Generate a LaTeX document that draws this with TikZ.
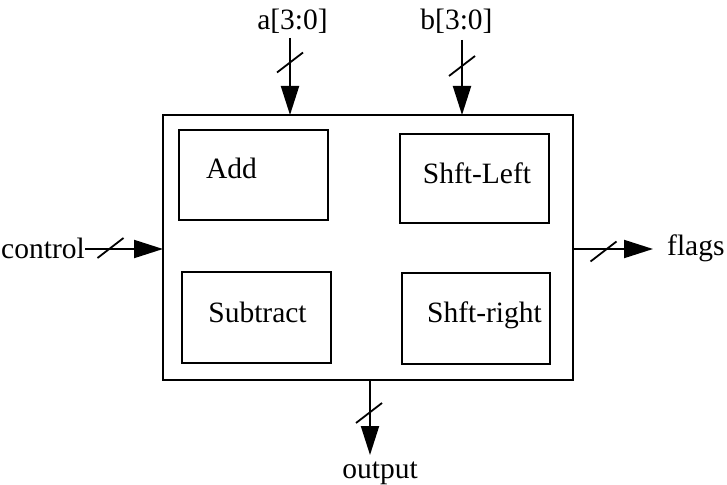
\documentclass[tikz,border=0pt]{standalone}
\usepackage{fontspec}
\setmainfont{Liberation Serif}
\usetikzlibrary{arrows.meta}
\begin{document}
\begin{tikzpicture}[x=1pt,y=-1pt,
  box/.style={draw,line width=2pt,minimum width=#1,inner sep=0pt},
  lbl/.style={inner sep=0pt,anchor=base,font=\fontsize{29.5}{33}\selectfont},
  sig/.style={line width=2pt,-{Triangle[length=29pt,width=18pt]}},
  slashline/.style={line width=1.8pt}]
\useasboundingbox (0,0) rectangle (727,484);
% outer block
\node[box=410pt,minimum height=265pt] (main) at (368,247.5) {};
% inner blocks
\node[box=149pt,minimum height=90pt] (add) at (253.5,175) {};
\node[box=149pt,minimum height=89pt] (shl) at (474.5,178.5) {};
\node[box=149pt,minimum height=91pt] (sub) at (256.5,317.5) {};
\node[box=148pt,minimum height=91pt] (shr) at (476,318.5) {};
% texts in blocks
\node[lbl] (addt) at (231.5,178) {Add};
\node[lbl] (shlt) at (477,183) {Shft-Left};
\node[lbl] (subt) at (257.5,322) {Subtract};
\node[lbl] (shrt) at (484.5,322) {Shft-right};
% port labels
\node[lbl] (alab) at (292.5,30) {a[3:0]};
\node[lbl] (blab) at (456.5,30) {b[3:0]};
\node[lbl,anchor=base east] (ctl) at (85,258) {control};
\node[lbl,anchor=base west] (flg) at (667,255) {flags};
\node[lbl] (outl) at (380,478) {output};
% connector end points
\coordinate (atop) at (290,38);
\coordinate (ain) at (290,115);
\coordinate (btop) at (462,40);
\coordinate (bin) at (462,115);
\coordinate (cin) at (163,249);
\coordinate (fout) at (573,249);
\coordinate (ftip) at (653,249);
\coordinate (oout) at (370,380);
\coordinate (otip) at (370,455);
% connectors
\draw[sig] (atop) -- (ain);
\draw[sig] (btop) -- (bin);
\draw[sig] (ctl.east |- cin) -- (cin);
\draw[sig] (fout) -- (ftip);
\draw[sig] (oout) -- (otip);
% bus slashes
\coordinate (sa) at (290,62.5);
\coordinate (sb) at (462,66);
\coordinate (sc) at (110.5,248);
\coordinate (sf) at (603.5,251.5);
\coordinate (so) at (369,413);
\foreach \s in {sa,sb,sc,sf,so}
  \draw[slashline] ([shift={(-13,10)}]\s) -- ([shift={(13,-10)}]\s);
\end{tikzpicture}
\end{document}
